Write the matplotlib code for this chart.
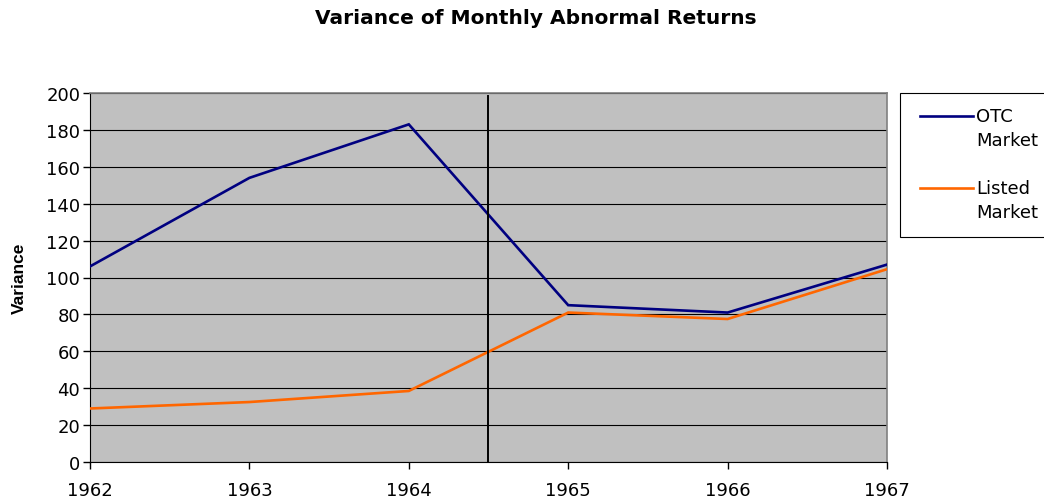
import matplotlib
matplotlib.use("Agg")
import matplotlib.pyplot as plt
from matplotlib.lines import Line2D
from matplotlib.patches import Rectangle

plt.rcParams['font.family'] = ['DejaVu Sans']

years = [1962, 1963, 1964, 1965, 1966, 1967]
otc = [106, 154, 183, 85, 81, 107]
listed = [29, 32.5, 38.5, 81, 77.5, 104.5]
event_year = 1964.5

OTC_COLOR = '#000080'
LISTED_COLOR = '#FF6600'

fig = plt.figure(figsize=(10.44, 5.02), dpi=100)
ax = fig.add_axes([90/1044, 1 - 463/502, (887 - 90)/1044, (463 - 94)/502])
ax.set_facecolor('#C0C0C0')

ax.plot(years, otc, color=OTC_COLOR, lw=1.9, solid_joinstyle='miter', zorder=3)
ax.plot(years, listed, color=LISTED_COLOR, lw=1.9, solid_joinstyle='miter', zorder=3)
ax.axvline(event_year, ymin=0, ymax=0.992, color='black', lw=1.4, zorder=4)

ax.set_xlim(years[0], years[-1])
ax.set_ylim(0, 200)
ax.set_yticks(range(0, 201, 20))
ax.set_xticks(years)
ax.yaxis.grid(True, color='black', lw=0.8)
ax.set_axisbelow(True)

ax.tick_params(axis='both', labelsize=13, direction='out', length=5, width=1)
ax.tick_params(axis='x', pad=9)
ax.tick_params(axis='y', pad=2)

for s in ['top', 'right']:
    ax.spines[s].set_color('#808080')
    ax.spines[s].set_linewidth(1.2)
for s in ['left', 'bottom']:
    ax.spines[s].set_color('black')

ax.set_ylabel('Variance', fontsize=12.5, fontweight='bold', labelpad=14,
              family=['Liberation Sans', 'DejaVu Sans'])
fig.text(536/1044, 1 - 19/502, 'Variance of Monthly Abnormal Returns',
         ha='center', va='center', fontsize=14.5, fontweight='bold')

# legend box, drawn by hand (right edge runs off the picture)
fig.patches.append(Rectangle((900/1044, 1 - 238/502), 150/1044, 144/502,
                             transform=fig.transFigure, facecolor='white',
                             edgecolor='black', lw=0.8))
for y0, color, label in [(117, OTC_COLOR, ['OTC', 'Market']),
                         (189, LISTED_COLOR, ['Listed', 'Market'])]:
    fig.lines.append(Line2D([920/1044, 973/1044], [1 - y0/502, 1 - y0/502],
                            transform=fig.transFigure, color=color, lw=1.9))
    fig.text(976/1044, 1 - y0/502, label[0], ha='left', va='center', fontsize=13)
    fig.text(976/1044, 1 - (y0 + 24)/502, label[1], ha='left', va='center', fontsize=13)

fig.savefig('out.png', dpi=100)
